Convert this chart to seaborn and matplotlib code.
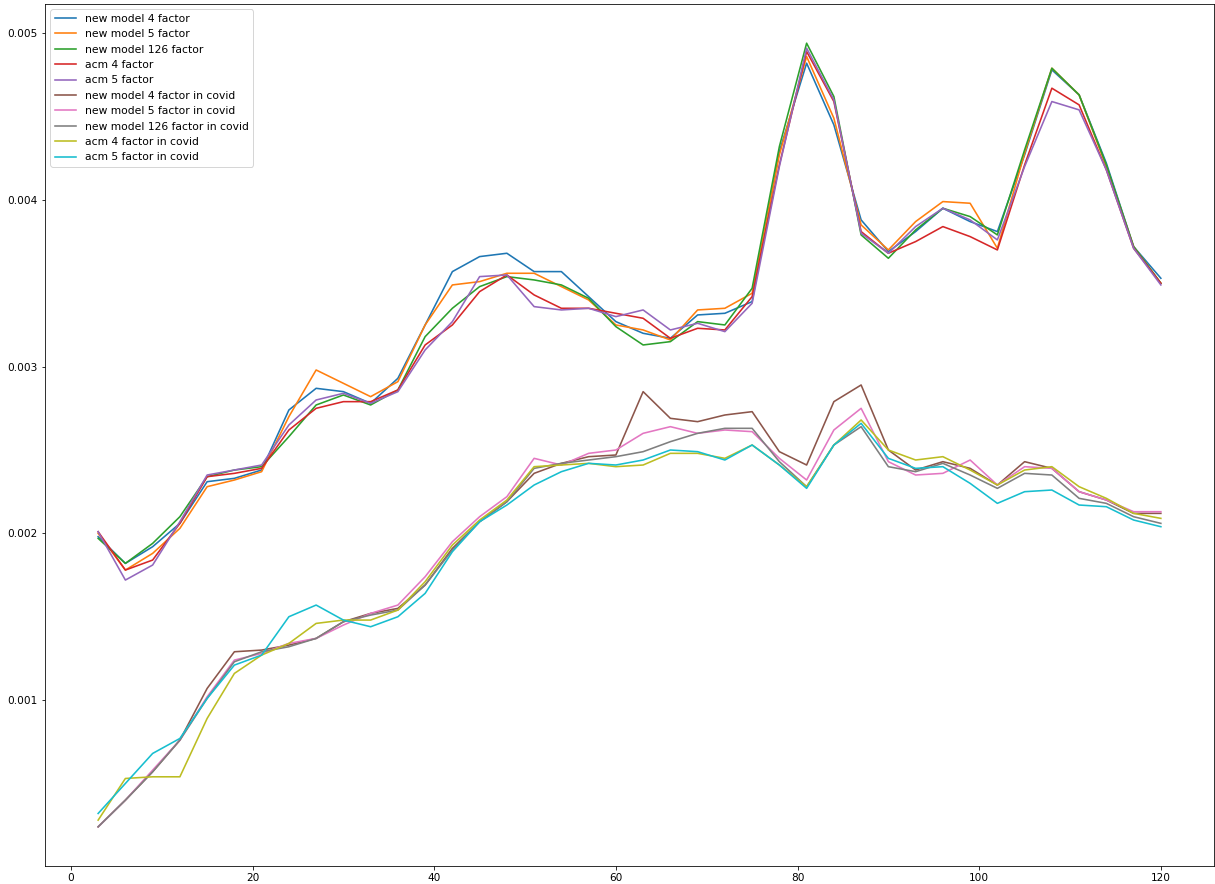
import matplotlib
matplotlib.use("Agg")
import matplotlib.pyplot as plt
import seaborn as sns
import numpy as np
import pandas as pd

months = list(range(3, 121, 3))

new_model_4 = [0.00198, 0.00182, 0.00192, 0.00206, 0.00231, 0.00233, 0.00238, 0.00274, 0.00287, 0.00285,
               0.00278, 0.00293, 0.00325, 0.00357, 0.00366, 0.00368, 0.00357, 0.00357, 0.00342, 0.00327,
               0.00320, 0.00317, 0.00331, 0.00332, 0.00339, 0.00429, 0.00482, 0.00445, 0.00388, 0.00369,
               0.00381, 0.00395, 0.00387, 0.00381, 0.00427, 0.00478, 0.00463, 0.00422, 0.00372, 0.00353]
new_model_5 = [0.00200, 0.00178, 0.00188, 0.00203, 0.00228, 0.00232, 0.00237, 0.00270, 0.00298, 0.00290,
               0.00282, 0.00291, 0.00325, 0.00349, 0.00351, 0.00356, 0.00356, 0.00348, 0.00340, 0.00325,
               0.00322, 0.00316, 0.00334, 0.00335, 0.00344, 0.00427, 0.00486, 0.00449, 0.00385, 0.00370,
               0.00387, 0.00399, 0.00398, 0.00371, 0.00428, 0.00479, 0.00463, 0.00420, 0.00372, 0.00350]
new_model_126 = [0.00197, 0.00182, 0.00194, 0.00210, 0.00234, 0.00238, 0.00240, 0.00258, 0.00277, 0.00283,
                 0.00277, 0.00286, 0.00318, 0.00335, 0.00348, 0.00354, 0.00352, 0.00349, 0.00341, 0.00324,
                 0.00313, 0.00315, 0.00327, 0.00325, 0.00347, 0.00432, 0.00494, 0.00462, 0.00379, 0.00365,
                 0.00382, 0.00395, 0.00390, 0.00379, 0.00430, 0.00479, 0.00463, 0.00421, 0.00372, 0.00350]
acm_4 = [0.00201, 0.00178, 0.00184, 0.00206, 0.00234, 0.00236, 0.00239, 0.00262, 0.00275, 0.00279,
         0.00279, 0.00286, 0.00313, 0.00325, 0.00345, 0.00355, 0.00343, 0.00335, 0.00335, 0.00332,
         0.00329, 0.00317, 0.00323, 0.00322, 0.00342, 0.00421, 0.00489, 0.00459, 0.00381, 0.00368,
         0.00375, 0.00384, 0.00378, 0.00370, 0.00421, 0.00467, 0.00457, 0.00418, 0.00371, 0.00350]
acm_5 = [0.00201, 0.00172, 0.00181, 0.00207, 0.00235, 0.00238, 0.00241, 0.00265, 0.00280, 0.00284,
         0.00278, 0.00285, 0.00310, 0.00327, 0.00354, 0.00355, 0.00336, 0.00334, 0.00335, 0.00330,
         0.00334, 0.00322, 0.00326, 0.00321, 0.00338, 0.00420, 0.00491, 0.00460, 0.00380, 0.00368,
         0.00384, 0.00395, 0.00388, 0.00376, 0.00420, 0.00459, 0.00454, 0.00418, 0.00371, 0.00349]

new_model_4_covid = [0.00024, 0.00040, 0.00057, 0.00076, 0.00107, 0.00129, 0.00130, 0.00133, 0.00137, 0.00147,
                     0.00152, 0.00155, 0.00169, 0.00191, 0.00207, 0.00219, 0.00236, 0.00242, 0.00246, 0.00247,
                     0.00285, 0.00269, 0.00267, 0.00271, 0.00273, 0.00249, 0.00241, 0.00279, 0.00289, 0.00250,
                     0.00238, 0.00243, 0.00239, 0.00229, 0.00243, 0.00239, 0.00225, 0.00220, 0.00212, 0.00212]
new_model_5_covid = [0.00024, 0.00040, 0.00058, 0.00076, 0.00102, 0.00124, 0.00128, 0.00134, 0.00137, 0.00145,
                     0.00152, 0.00157, 0.00174, 0.00195, 0.00210, 0.00222, 0.00245, 0.00241, 0.00248, 0.00250,
                     0.00260, 0.00264, 0.00260, 0.00262, 0.00261, 0.00245, 0.00232, 0.00262, 0.00275, 0.00243,
                     0.00235, 0.00236, 0.00244, 0.00229, 0.00240, 0.00239, 0.00225, 0.00220, 0.00213, 0.00213]
new_model_126_covid = [0.00024, 0.00040, 0.00057, 0.00076, 0.00101, 0.00123, 0.00129, 0.00132, 0.00137, 0.00147,
                       0.00151, 0.00154, 0.00169, 0.00190, 0.00207, 0.00219, 0.00239, 0.00242, 0.00244, 0.00246,
                       0.00249, 0.00255, 0.00260, 0.00263, 0.00263, 0.00243, 0.00228, 0.00253, 0.00264, 0.00240,
                       0.00237, 0.00242, 0.00235, 0.00227, 0.00236, 0.00235, 0.00221, 0.00218, 0.00210, 0.00206]
acm_4_covid = [0.00028, 0.00053, 0.00054, 0.00054, 0.00089, 0.00116, 0.00127, 0.00134, 0.00146, 0.00148,
               0.00148, 0.00154, 0.00171, 0.00193, 0.00208, 0.00220, 0.00240, 0.00241, 0.00242, 0.00240,
               0.00241, 0.00248, 0.00248, 0.00245, 0.00253, 0.00241, 0.00228, 0.00253, 0.00268, 0.00250,
               0.00244, 0.00246, 0.00238, 0.00229, 0.00238, 0.00240, 0.00228, 0.00221, 0.00212, 0.00209]
acm_5_covid = [0.00032, 0.00050, 0.00068, 0.00077, 0.00101, 0.00121, 0.00127, 0.00150, 0.00157, 0.00148,
               0.00144, 0.00150, 0.00164, 0.00189, 0.00207, 0.00217, 0.00229, 0.00237, 0.00242, 0.00241,
               0.00244, 0.00250, 0.00249, 0.00244, 0.00253, 0.00241, 0.00227, 0.00253, 0.00266, 0.00245,
               0.00239, 0.00240, 0.00230, 0.00218, 0.00225, 0.00226, 0.00217, 0.00216, 0.00208, 0.00204]

series_names = [
    "new model 4 factor", "new model 5 factor", "new model 126 factor",
    "acm 4 factor", "acm 5 factor",
    "new model 4 factor in covid", "new model 5 factor in covid",
    "new model 126 factor in covid", "acm 4 factor in covid", "acm 5 factor in covid",
]
series_values = [
    new_model_4, new_model_5, new_model_126, acm_4, acm_5,
    new_model_4_covid, new_model_5_covid, new_model_126_covid, acm_4_covid, acm_5_covid,
]

rows = []
for name, vals in zip(series_names, series_values):
    for m, v in zip(months, vals):
        rows.append({"month": m, "value": v, "series": name})
df = pd.DataFrame(rows)

palette = sns.color_palette("tab10", len(series_names))

fig = plt.figure(figsize=(1215 / 72, 884 / 72), dpi=72)
ax = fig.add_axes([45 / 1215, 18 / 884, 1169 / 1215, 862 / 884])

for name, color in zip(series_names, palette):
    sub = df[df["series"] == name]
    sns.lineplot(data=sub, x="month", y="value", ax=ax, color=color, label=name,
                 linewidth=1.6, estimator=None)

ax.set_xlabel("")
ax.set_ylabel("")
ax.set_xticks([0, 20, 40, 60, 80, 100, 120])
ax.set_yticks([0.001, 0.002, 0.003, 0.004, 0.005])
ax.tick_params(labelsize=10.5)
ax.legend(loc="upper left", fontsize=10.8)

fig.savefig("out.png", dpi=72)
